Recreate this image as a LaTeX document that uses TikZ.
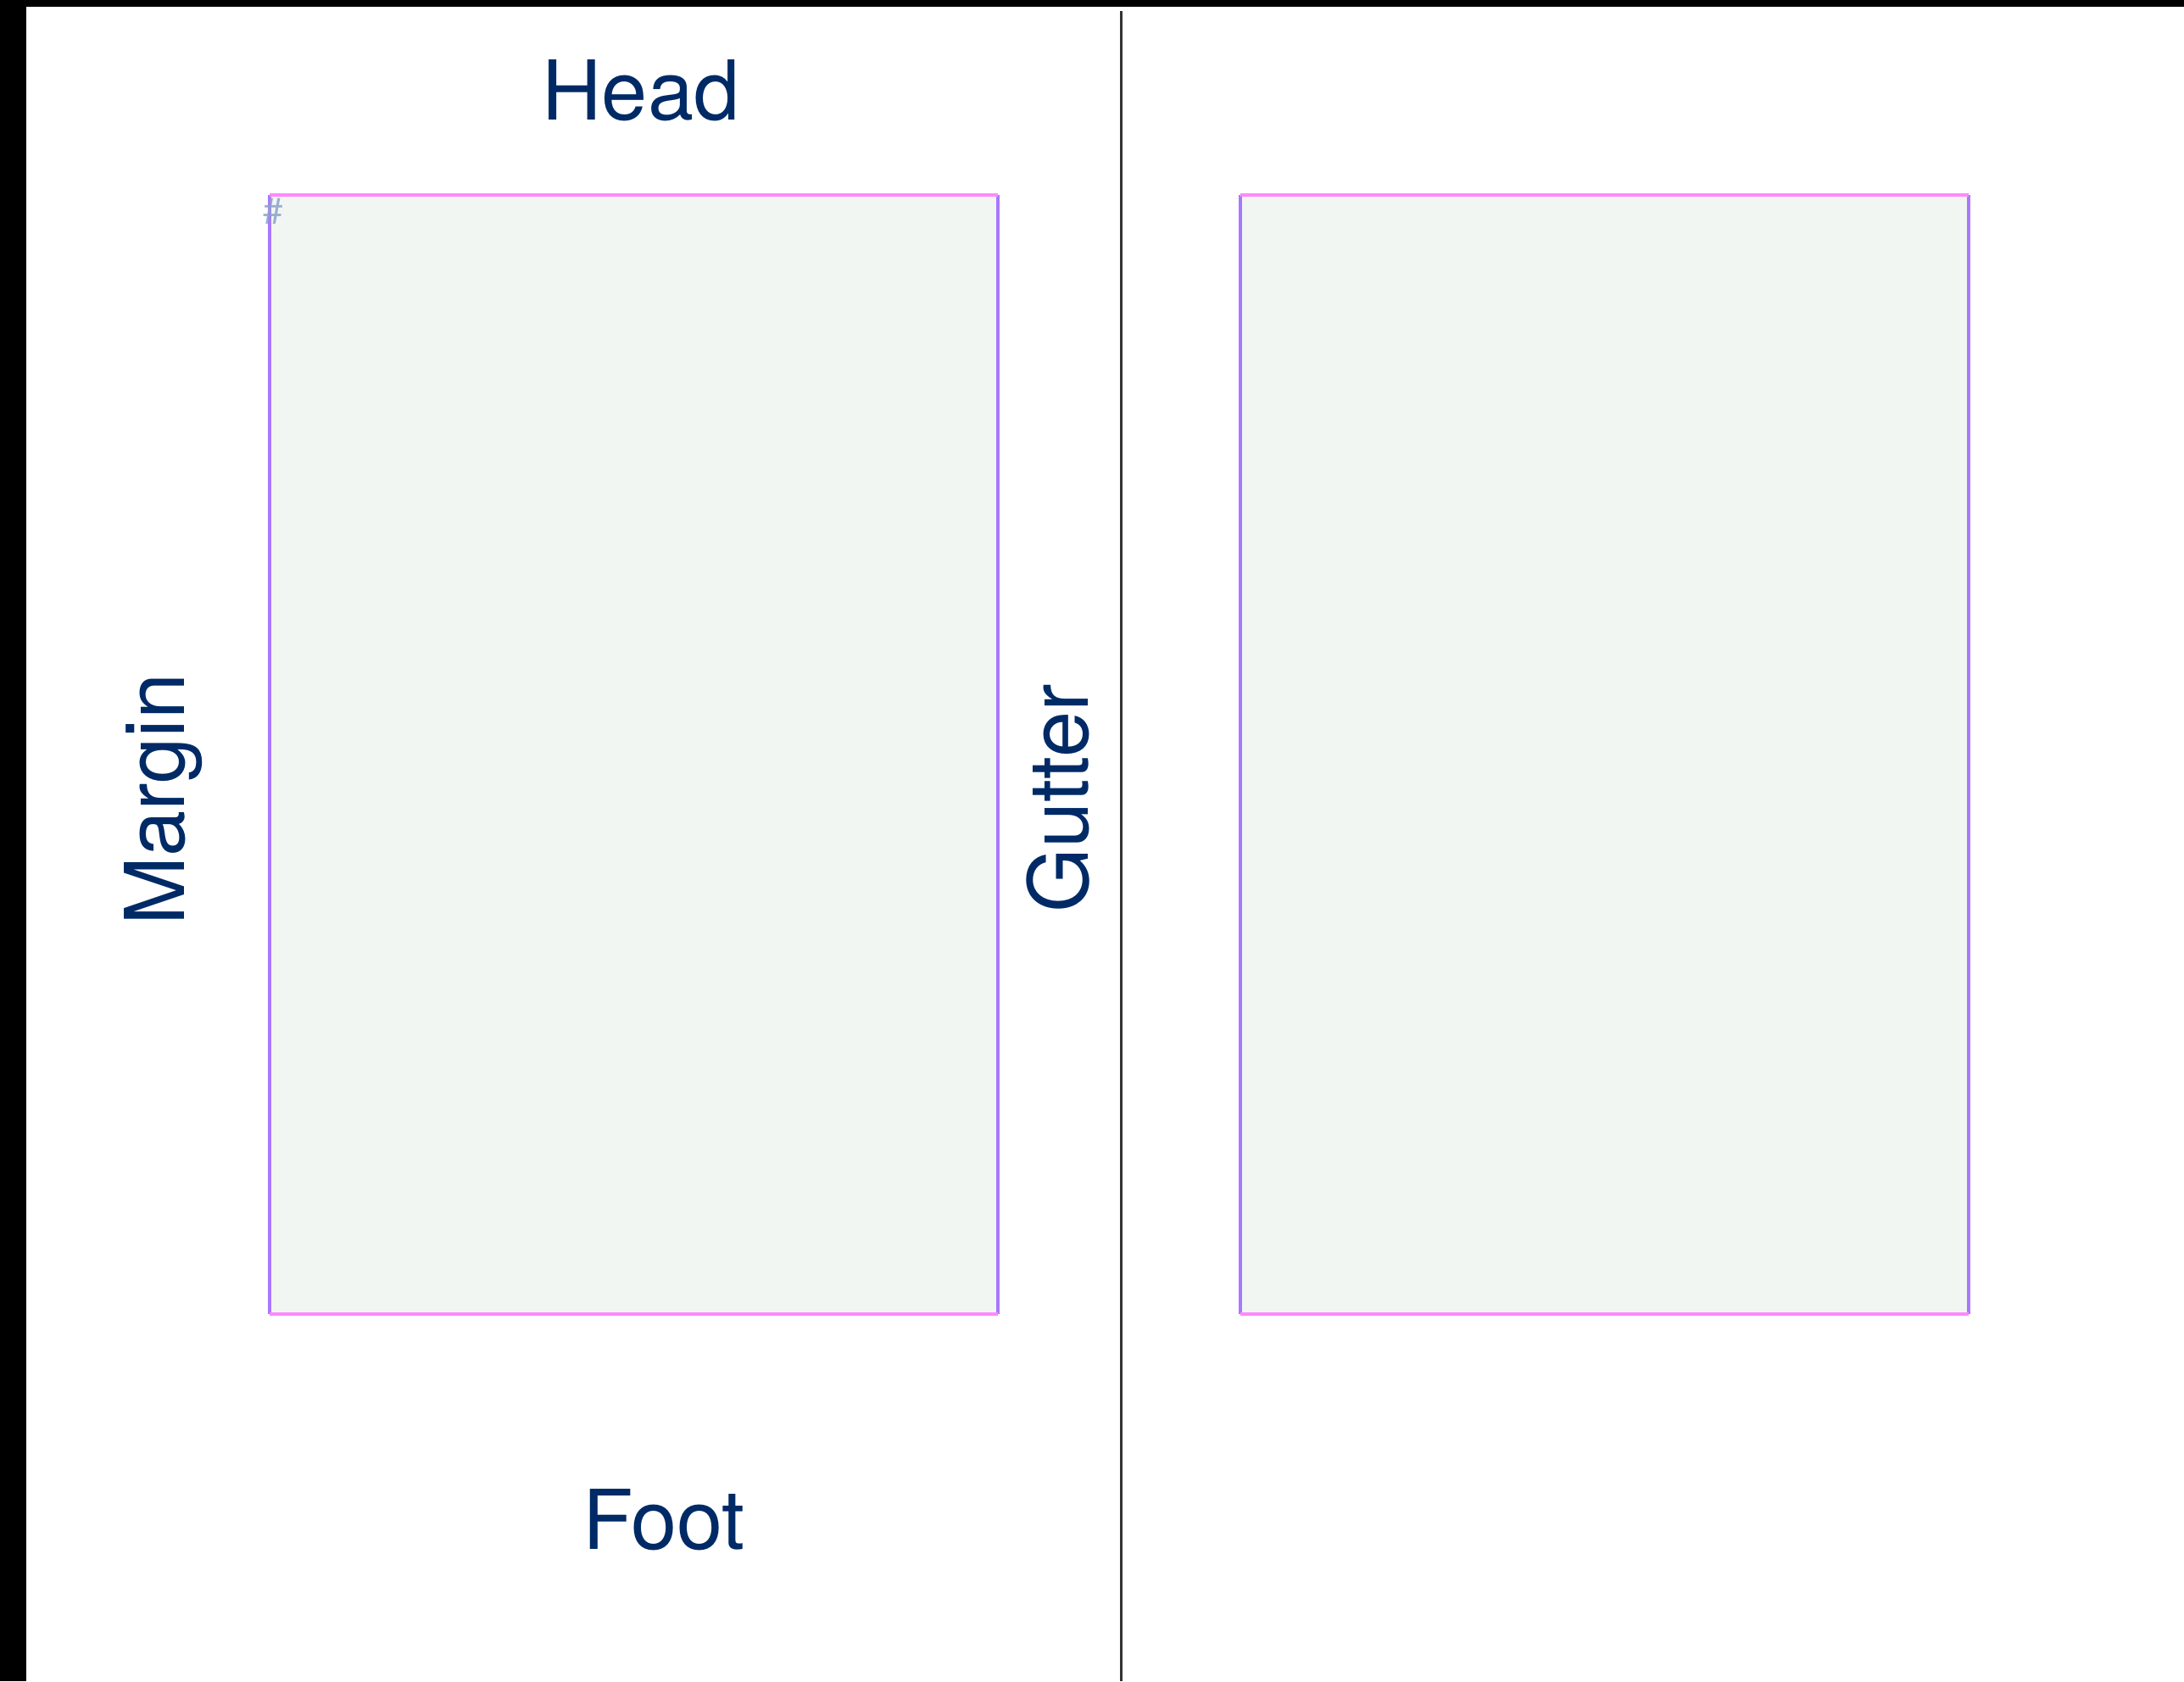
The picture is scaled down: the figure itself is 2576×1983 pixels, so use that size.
\documentclass[tikz,border=0pt]{standalone}
\usepackage{fontspec}
\setmainfont{TeX Gyre Heros}
\usepackage{tikz}

\definecolor{navy}{HTML}{002A66}
\definecolor{pagefill}{HTML}{F2F6F2}
\definecolor{edgepink}{HTML}{FF88FF}
\definecolor{edgeviolet}{HTML}{A878FF}
\definecolor{spine}{HTML}{333333}
\definecolor{markblue}{HTML}{8CA2CC}

\tikzset{
    part/.style={navy, inner sep=0pt, anchor=base, font=\fontsize{27.7}{30}\selectfont},
    hedge/.style={edgepink, line width=0.4mm},
    vedge/.style={edgeviolet, line width=0.4mm}
}

\begin{document}
\begin{tikzpicture}[x=0.1mm,y=-0.1mm]

        % whole sheet, black edges on top and left
            \useasboundingbox (0,0) rectangle (2576,1983);
            \fill[white] (0,0) rectangle (2576,1983);
            \fill[black] (0,0) rectangle (2576,8);
            \fill[black] (0,0) rectangle (31,1983);

        % spine between the two pages
            \coordinate (spine-top) at (1322,13);
            \coordinate (spine-bot) at (1322,1983);
            \draw[spine, line width=0.3mm] (spine-top) -- (spine-bot);

        % text blocks of both pages
            \foreach \dx/\pg in {0/lp, 1145/rp} {
                \coordinate (\pg-nw) at (318+\dx,230);
                \coordinate (\pg-ne) at (1177+\dx,230);
                \coordinate (\pg-se) at (1177+\dx,1550);
                \coordinate (\pg-sw) at (318+\dx,1550);
                \fill[pagefill] (\pg-nw) rectangle (\pg-se);
                \draw[vedge] (\pg-nw) -- (\pg-sw);
                \draw[vedge] (\pg-ne) -- (\pg-se);
                \draw[hedge] (\pg-nw) -- (\pg-ne);
                \draw[hedge] (\pg-sw) -- (\pg-se);
            }
            \node[markblue, opacity=0.85, font=\fontsize{12}{14}\selectfont, inner sep=0pt] (anchor-mark) at (322,249) {\#};

        % labels
            \node[part] (head) at (756,141) {Head};
            \node[part] (foot) at (783,1827) {Foot};
            \node[part, rotate=90] (margin) at (217,943) {Margin};
            \node[part, rotate=90] (gutter) at (1283,942) {Gutter};

\end{tikzpicture}
\end{document}
